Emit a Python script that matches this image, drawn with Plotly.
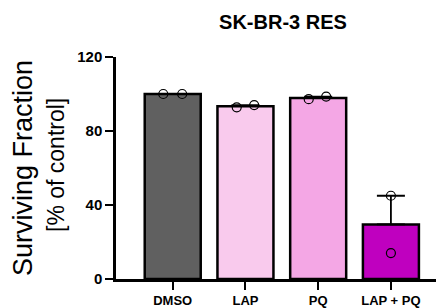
import numpy as np
import plotly.graph_objects as go

categories = ["DMSO", "LAP", "PQ", "LAP + PQ"]
replicates = [
    [100.0, 100.0],
    [92.8, 94.0],
    [97.2, 98.6],
    [45.0, 14.0],
]
jitter = [[-0.13, 0.13], [-0.12, 0.12], [-0.13, 0.11], [0.0, 0.0]]
bar_colors = ["#606060", "#f9caed", "#f4a7e5", "#bf00bf"]
y_ticks = [0, 40, 80, 120]

FONT = "Arial, Liberation Sans, Helvetica, sans-serif"

# page body has an 8px default margin; shift the layout up-left to compensate
OFF = 8

xs = list(range(len(categories)))
means = [float(np.mean(r)) for r in replicates]
sems = [float(np.std(r, ddof=1) / np.sqrt(len(r))) for r in replicates]

fig = go.Figure()
fig.add_trace(go.Bar(
    x=xs, y=means, width=0.77,
    marker=dict(color=bar_colors, line=dict(color="black", width=2.5)),
    error_y=dict(type="data", symmetric=False, array=sems,
                 arrayminus=[0] * len(sems), color="black",
                 thickness=1.8, width=14),
    showlegend=False,
))
px_, py_ = [], []
for i, reps in enumerate(replicates):
    for j, v in enumerate(reps):
        px_.append(i + jitter[i][j])
        py_.append(v)
fig.add_trace(go.Scatter(
    x=px_, y=py_, mode="markers",
    marker=dict(symbol="circle-open", size=9, color="black",
                line=dict(width=1.2, color="black")),
    showlegend=False,
))

L, T, PW, PH = 116 - OFF, 57 - OFF, 328, 222
fig.update_layout(
    width=444, height=308,
    margin=dict(l=L, r=444 - L - PW, t=T, b=308 - T - PH),
    paper_bgcolor="white", plot_bgcolor="white",
    font=dict(family=FONT, color="black"),
    title=dict(text="<b>SK-BR-3 RES</b>", x=0.509, xref="paper",
               y=1 - (22 - OFF) / 308, yref="container", xanchor="center",
               yanchor="middle", font=dict(size=20, family=FONT)),
    xaxis=dict(range=[-0.78, 3.73], tickvals=xs,
               ticktext=[f"<b>{c}</b>" for c in categories],
               showline=True, linecolor="black", linewidth=2.5,
               ticks="outside", ticklen=8, tickwidth=2, tickcolor="black",
               showgrid=False, zeroline=False,
               tickfont=dict(size=13, family=FONT)),
    yaxis=dict(range=[0, 120], tickvals=y_ticks,
               ticktext=[f"<b>{t}</b>" for t in y_ticks],
               showline=True, linecolor="black", linewidth=2.5,
               ticks="outside", ticklen=8, tickwidth=2, tickcolor="black",
               showgrid=False, zeroline=False,
               tickfont=dict(size=15, family=FONT)),
    annotations=[
        dict(text="Surviving Fraction", textangle=-90, xref="paper",
             yref="paper", x=(23 - 116) / PW, y=(279 - 168) / PH,
             xanchor="center", yanchor="middle", showarrow=False,
             font=dict(size=27, family=FONT)),
        dict(text="[% of control]", textangle=-90, xref="paper",
             yref="paper", x=(56 - 116) / PW, y=(279 - 165) / PH,
             xanchor="center", yanchor="middle", showarrow=False,
             font=dict(size=23, family=FONT)),
    ],
)

fig.write_html("out.html")
